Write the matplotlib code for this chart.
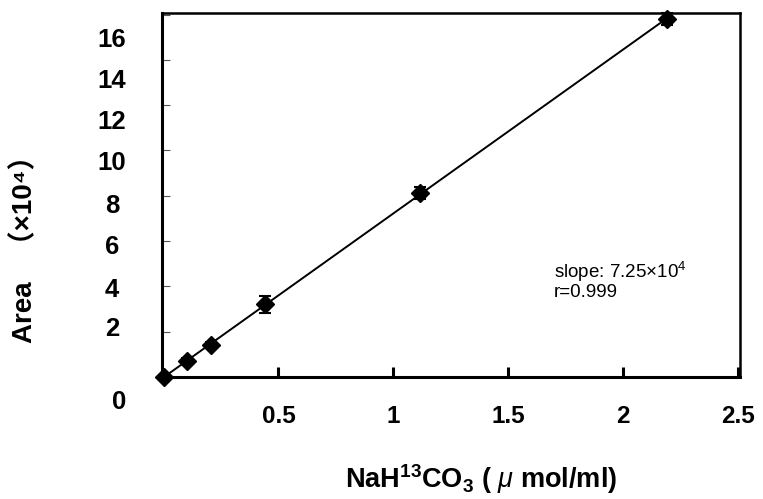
import numpy as np
import matplotlib
matplotlib.use('Agg')
import matplotlib.pyplot as plt
from matplotlib import transforms

# fonts: Arial-like text, CJK fallback for the full-width brackets
plt.rcParams['font.family'] = ['Liberation Sans', 'Noto Sans CJK JP', 'DejaVu Sans']
plt.rcParams['mathtext.fontset'] = 'custom'
plt.rcParams['mathtext.rm'] = 'Liberation Sans'
plt.rcParams['mathtext.it'] = 'Liberation Sans:italic'
plt.rcParams['mathtext.bf'] = 'Liberation Sans:bold'

# data
conc = [0.0, 0.103, 0.206, 0.441, 1.116, 2.19]      # NaH13CO3 (umol/ml)
area = [0.0, 0.72, 1.41, 3.21, 8.12, 15.8]          # Area (x10^4)
err = [0.05, 0.1, 0.12, 0.37, 0.25, 0.25]

xticks = [0.5, 1, 1.5, 2, 2.5]
xtick_labels = ['0.5', '1', '1.5', '2', '2.5']
yticks = [2, 4, 6, 8, 10, 12, 14, 16]
# the printed y labels sit a bit off their tick marks in the original
ylabel_pos = [2.21, 3.97, 5.83, 7.68, 9.58, 11.39, 13.2, 14.97]
ylabels = ['2', '4', '6', '8', '10', '12', '14', '16']

# linear fit
k, b = np.polyfit(conc, area, 1)

fig = plt.figure(figsize=(7.63, 4.99), dpi=100)
ax = fig.add_axes([162/763, 1-377/499, 578/763, 364/499])

xfit = np.array([min(conc), max(conc)])
ax.plot(xfit, k*xfit + b, color='black', lw=1.4, zorder=2)

eb = ax.errorbar(conc, area, yerr=err, fmt='D', color='black', ms=9.5,
                 capsize=4.5, elinewidth=1.5, capthick=1.5, zorder=3)
eb[0].set_clip_on(False)
for a in eb[1]:
    a.set_clip_on(False)
for a in eb[2]:
    a.set_clip_on(False)

ax.set_xlim(-0.007, 2.509)
ax.set_ylim(0, 16.07)

for s in ['left', 'bottom']:
    ax.spines[s].set_linewidth(2.2)
for s in ['top', 'right']:
    ax.spines[s].set_linewidth(1.8)

ax.set_xticks(xticks)
ax.set_xticklabels(xtick_labels, fontweight='bold')
ax.tick_params(axis='x', which='major', direction='in', length=7, width=2.2,
               pad=20, labelsize=17.5)

ax.set_yticks(ylabel_pos)
ax.set_yticklabels(ylabels, fontweight='bold', ha='center')
ax.tick_params(axis='y', which='major', length=0, pad=36, labelsize=18.5)
ax.set_yticks(yticks, minor=True)
ax.tick_params(axis='y', which='minor', direction='in', length=6, width=0.8,
               color='#555555')

# the lone "0" below the corner
trans = transforms.blended_transform_factory(ax.transAxes, ax.transData)
ax.text(-0.074, -1.1, '0', transform=trans, ha='center', va='center',
        fontsize=18.5, fontweight='bold', clip_on=False)

ax.text(1.70, 5.15, 'slope: 7.25×10$^4$\nr=0.999', fontsize=13.5,
        ha='left', va='top', linespacing=1.0)

ax.set_xlabel('$\\mathbf{NaH^{13}CO_3}$$\\mathbf{\\ (\\ }$$\\mu$$\\mathbf{\\ mol/ml)}$',
              fontsize=19.5, va='baseline')
ax.xaxis.set_label_coords(0.552, -0.305)
ax.set_ylabel('Area   （×10⁴）', fontsize=20, fontweight='bold')
ax.yaxis.set_label_coords(-0.215, 0.37)

fig.savefig('out.png', dpi=100)
